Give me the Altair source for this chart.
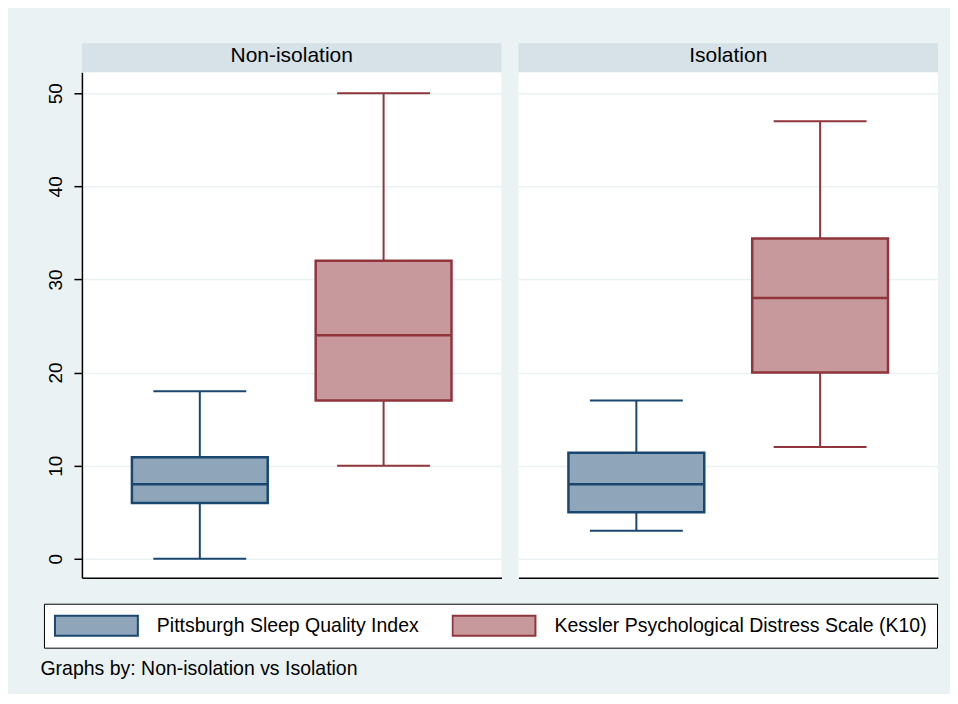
import altair as alt
import pandas as pd

# ---- data ----
groups = ["Non-isolation", "Isolation"]
measures = ["Pittsburgh Sleep Quality Index", "Kessler Psychological Distress Scale (K10)"]

row_group = ["Non-isolation", "Non-isolation", "Isolation", "Isolation"]
row_measure = [measures[0], measures[1], measures[0], measures[1]]
lower_whisker = [0, 10, 3, 12]
q1 = [6, 17, 5, 20]
median = [8, 24, 8, 28]
q3 = [10.9, 32, 11.4, 34.4]
upper_whisker = [18, 50, 17, 47]

y_ticks = [0, 10, 20, 30, 40, 50]

fill_colors = ["#8ea5ba", "#c8999c"]
stroke_colors = ["#1a476f", "#90353b"]

FONT = "Liberation Sans"
BG = "#eaf2f3"
HEADER = "#d6e2e8"
GRID = "#eaf2f3"
PW, PH = 420, 506

df = pd.DataFrame({
    "group": row_group,
    "measure": row_measure,
    "lo": lower_whisker,
    "q1": q1,
    "med": median,
    "q3": q3,
    "hi": upper_whisker,
})

stroke_scale = alt.Scale(domain=measures, range=stroke_colors)
fill_scale = alt.Scale(domain=measures, range=fill_colors)
# same mapping, listed in reverse so that this legend-less scale stays separate
line_scale = alt.Scale(domain=measures[::-1], range=stroke_colors[::-1])
y_scale = alt.Scale(domain=[-2.04, 52.25], nice=False, zero=False)


def panel(g, show_axis):
    d = df[df["group"] == g]
    base = alt.Chart(d)
    x_enc = alt.X(
        "measure:N",
        sort=measures,
        scale=alt.Scale(domain=measures, paddingInner=0.261, paddingOuter=0.272),
        axis=alt.Axis(labels=False, ticks=False, title=None, grid=False,
                      domain=True, domainColor="black", domainWidth=1.5),
    )
    if show_axis:
        y_axis = alt.Axis(values=y_ticks, title=None, grid=True, gridColor=GRID,
                          gridWidth=1.5, labelAngle=270, labelAlign="center",
                          labelBaseline="alphabetic", labelPadding=12,
                          labelFontSize=19, labelFont=FONT, labelColor="black",
                          tickSize=8, tickColor="black", tickWidth=1.5,
                          domainColor="black", domainWidth=1.5)
    else:
        y_axis = alt.Axis(values=y_ticks, title=None, grid=True, gridColor=GRID,
                          gridWidth=1.5, labels=False, ticks=False, domain=False)
    color_enc = alt.Color("measure:N", scale=line_scale, legend=None)

    whisker = base.mark_rule(strokeWidth=2).encode(
        x=x_enc,
        y=alt.Y("lo:Q", scale=y_scale, axis=y_axis),
        y2="hi:Q",
        color=color_enc,
    )
    box = base.mark_bar(strokeWidth=2.5, opacity=1).encode(
        x=x_enc,
        y=alt.Y("q1:Q", scale=y_scale),
        y2="q3:Q",
        fill=alt.Fill("measure:N", scale=fill_scale, legend=alt.Legend(title=None)),
        stroke=alt.Stroke("measure:N", scale=stroke_scale, legend=alt.Legend(title=None)),
    )
    med = base.mark_tick(size=136, thickness=2.5, opacity=1).encode(
        x=x_enc, y=alt.Y("med:Q", scale=y_scale), color=color_enc)
    cap_lo = base.mark_tick(size=93, thickness=2, opacity=1).encode(
        x=x_enc, y=alt.Y("lo:Q", scale=y_scale), color=color_enc)
    cap_hi = base.mark_tick(size=93, thickness=2, opacity=1).encode(
        x=x_enc, y=alt.Y("hi:Q", scale=y_scale), color=color_enc)

    hdr_data = alt.Data(values=[{"g": g}])
    hdr_rect = alt.Chart(hdr_data).mark_rect(color=HEADER).encode(
        x=alt.value(0), x2=alt.value(PW), y=alt.value(-29), y2=alt.value(0))
    hdr_text = alt.Chart(hdr_data).mark_text(
        font=FONT, fontSize=21, color="black", align="center", baseline="middle"
    ).encode(x=alt.value(PW / 2), y=alt.value(-16), text="g:N")

    return alt.layer(hdr_rect, hdr_text, whisker, box, med, cap_lo, cap_hi).properties(
        width=PW, height=PH)


chart = alt.hconcat(
    panel(groups[0], True), panel(groups[1], False), spacing=17
).properties(
    background=BG,
    padding={"left": 32, "top": 35, "right": 12, "bottom": 15},
    title=alt.TitleParams(
        "Graphs by: Non-isolation vs Isolation",
        orient="bottom", anchor="start", font=FONT, fontSize=19.5,
        fontWeight="normal", color="black", offset=12, dx=-3,
    ),
).configure_view(
    strokeWidth=0, fill="white"
).configure_legend(
    orient="none", legendX=-38, legendY=532, direction="horizontal", columns=2,
    symbolType="M-1,-0.241H1V0.241H-1Z", symbolSize=6889, symbolStrokeWidth=2,
    symbolOpacity=1, clipHeight=24,
    labelFont=FONT, labelFontSize=19.5, labelColor="black", labelLimit=600,
    labelOffset=18, columnPadding=32, padding=10,
    strokeColor="black", fillColor="white",
)

chart.save("out.html", embed_options={"renderer": "svg", "actions": False})
